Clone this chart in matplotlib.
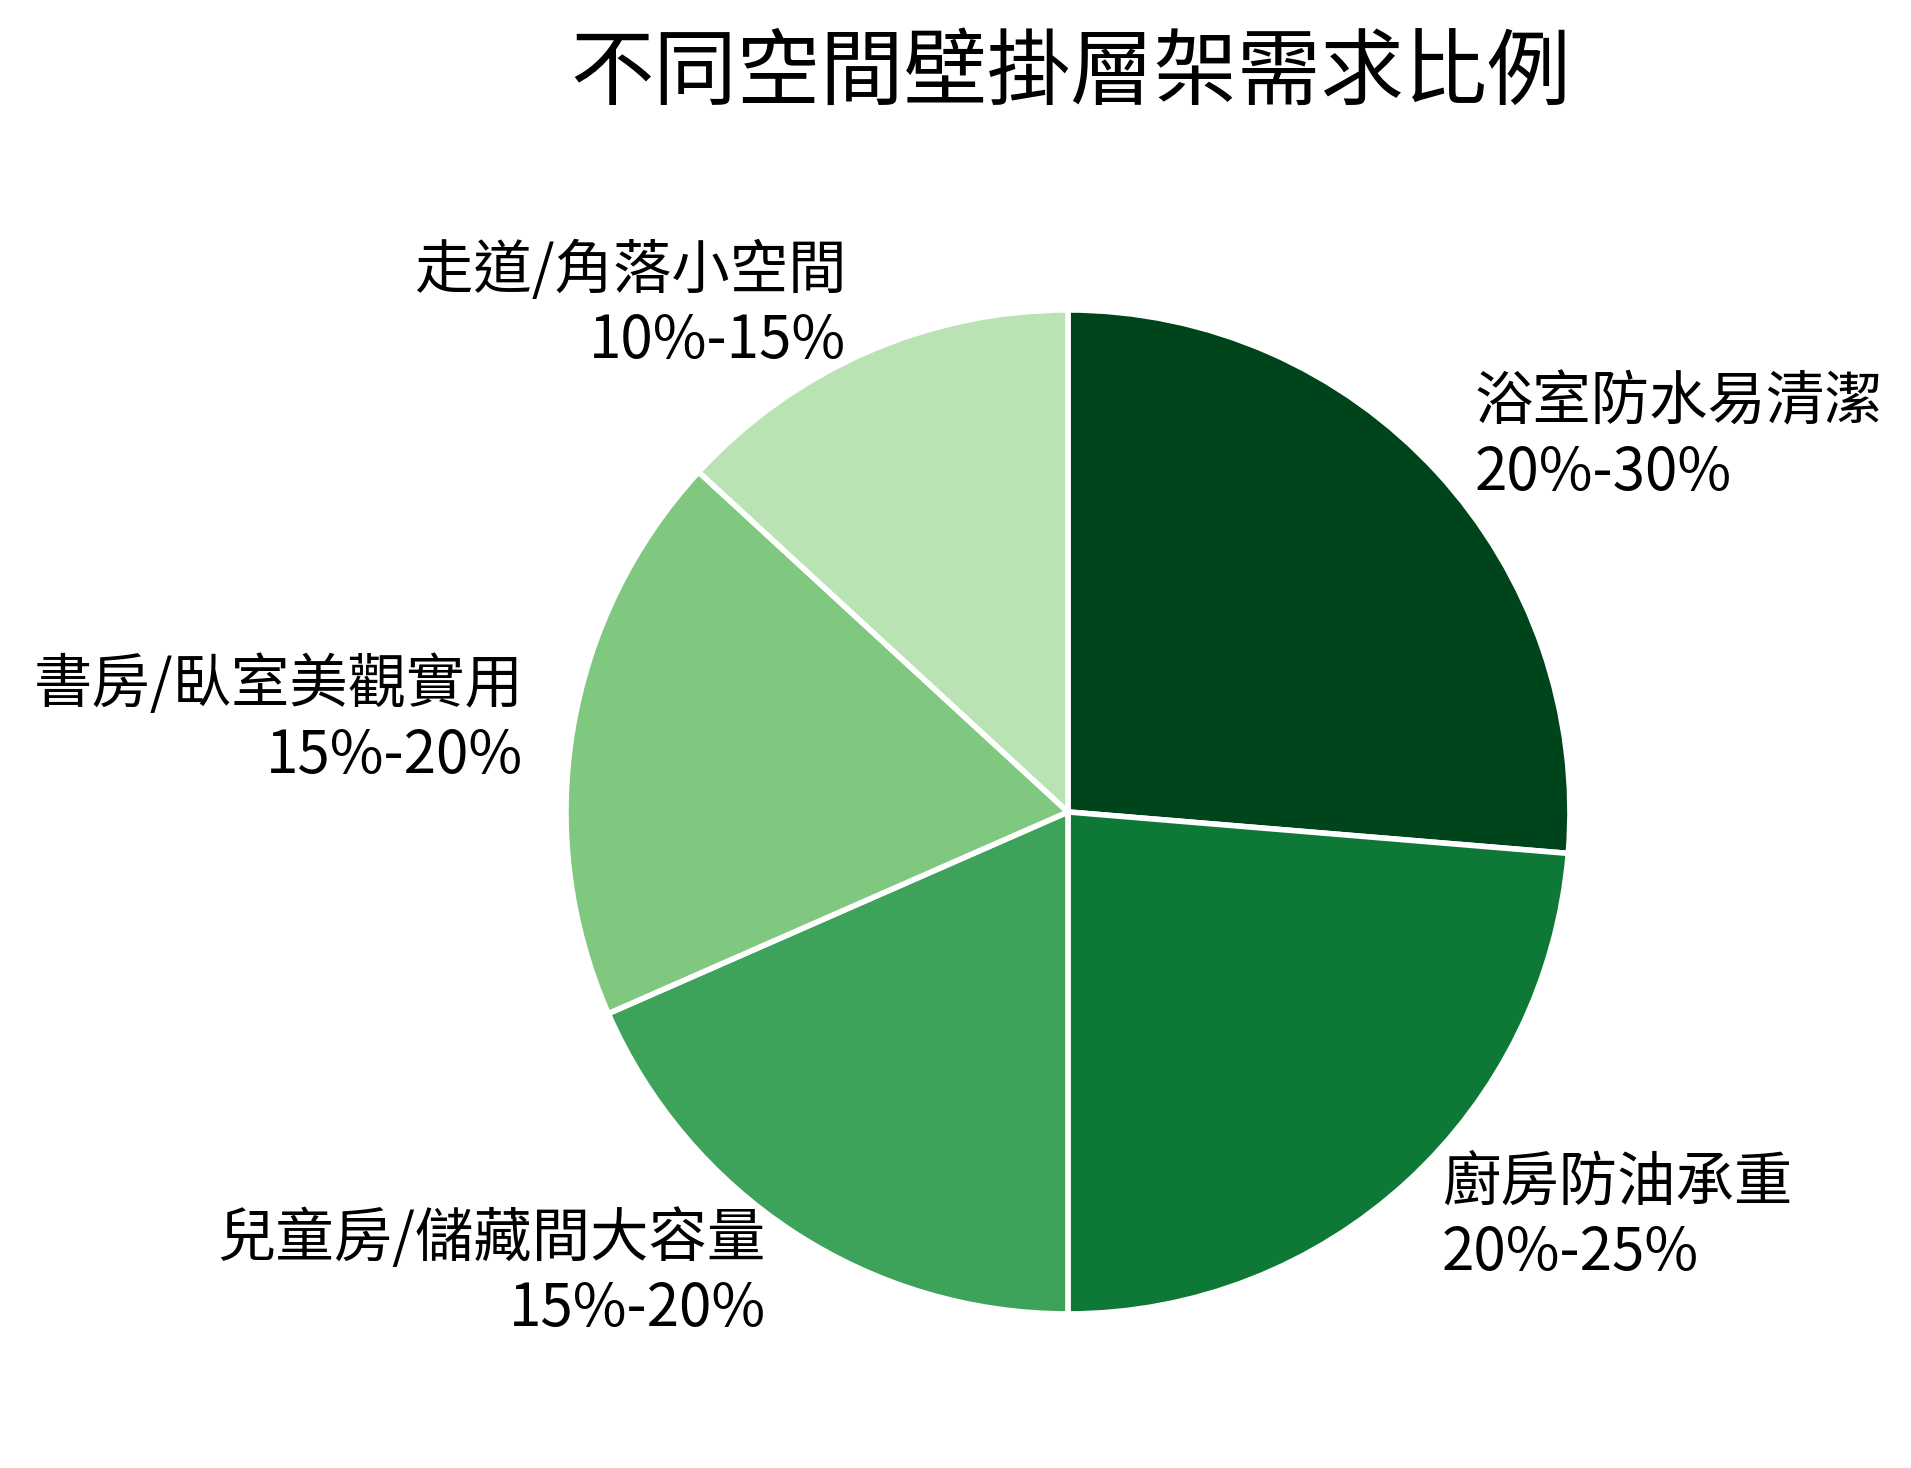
import matplotlib.pyplot as plt

plt.rcParams['font.family'] = ['Noto Sans CJK TC', 'DejaVu Sans']

# data (midpoints of the stated ranges)
spaces = ["浴室防水易清潔", "廚房防油承重", "兒童房/儲藏間大容量",
          "書房/臥室美觀實用", "走道/角落小空間"]
ranges = ["20%-30%", "20%-25%", "15%-20%", "15%-20%", "10%-15%"]
shares = [25, 22.5, 17.5, 17.5, 12.5]
colors = ["#00441b", "#0e7936", "#3da35a", "#80c880", "#b9e3b3"]

labels = [f"{s}\n{r}" for s, r in zip(spaces, ranges)]

fig = plt.figure(figsize=(9.555, 7.34), dpi=200)
ax = fig.add_axes([0.2305, 0.0194, 0.6567, 0.855])
wedges, texts = ax.pie(shares, labels=labels, colors=colors,
                       startangle=90, counterclock=False,
                       labeldistance=1.1,
                       wedgeprops=dict(edgecolor="white", linewidth=2),
                       textprops=dict(fontsize=21, color="black"))
ax.set_xlim(-1.25, 1.25)
ax.set_ylim(-1.25, 1.25)
ax.set_aspect("equal")

fig.text(0.560, 0.950, "不同空間壁掛層架需求比例", fontsize=30,
         ha="center", va="center")

fig.savefig("out.png", dpi=200, facecolor="white")
